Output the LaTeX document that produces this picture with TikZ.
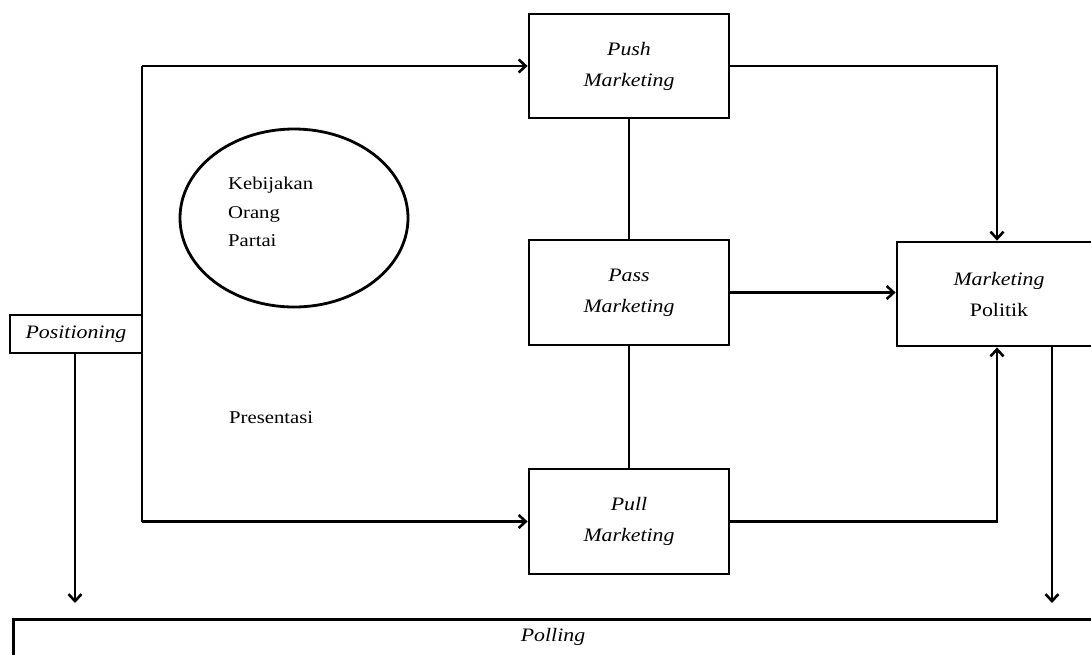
\documentclass[tikz,border=0pt]{standalone}
\usepackage{fontspec}
\setmainfont{Liberation Serif}[FakeStretch=1.15]
\usetikzlibrary{arrows.meta,shapes.geometric}
\begin{document}
\begin{tikzpicture}[x=1pt,y=-1pt,
  every node/.style={font=\fontsize{19}{32}\selectfont},
  line/.style={line width=2.8pt},
  arr/.style={line width=2.8pt,-{Straight Barb[length=7pt,width=13pt,line width=2.6pt]}},
  box/.style={draw,line width=2.8pt,minimum width=200pt,minimum height=104pt,align=center,inner sep=0pt},
  txt/.style={inner sep=0pt,anchor=west}]
\useasboundingbox (0,0) rectangle (1091,654);
\clip (0,0) rectangle (1091,654);
\node[box] (push) at (629,66) {\textit{Push}\\[-1pt]\textit{Marketing}};
\node[box,minimum height=105pt] (pass) at (629,292.5) {\textit{Pass}\\[-1pt]\textit{Marketing}};
\node[box,minimum height=105pt] (pull) at (629,521.5) {\textit{Pull}\\[-1pt]\textit{Marketing}};
\node[box,minimum width=204pt] (mp) at (999,294) {\textit{Marketing}\\[-1pt]Politik};
\node[draw,line width=2.8pt,minimum width=132pt,minimum height=38pt,inner sep=0pt] (pos) at (76,334) {\textit{Positioning}};
\node[draw,line width=2.8pt,minimum width=1090pt,minimum height=46pt,inner sep=0pt,anchor=north west] (poll) at (12,618) {};
\node[inner sep=0pt] (polltext) at (553,637) {\textit{Polling}};
\node[draw,ellipse,line width=2.8pt,minimum width=228pt,minimum height=178pt] (ell) at (294,218) {};
\node[txt,align=left,font=\fontsize{18}{28.5}\selectfont] (elltext) at (228,212) {Kebijakan\\Orang\\Partai};
\node[txt,font=\fontsize{18}{28}\selectfont] (pres) at (229,418) {Presentasi};
\coordinate (tl) at (142,66);
\coordinate (bl) at (142,521.5);
\coordinate (posdown) at (75,603);
\coordinate (mpdown) at (1052,603);
\draw[line] (tl) -- (bl);
\draw[arr] (tl) -- (push.west);
\draw[arr] (bl) -- (pull.west);
\draw[arr] (pos.south -| posdown) -- (posdown);
\draw[line] (push.south) -- (pass.north);
\draw[line] (pass.south) -- (pull.north);
\draw[arr] (push.east) -| (mp.north -| 997,0);
\draw[arr] (pull.east) -| (mp.south -| 997,0);
\draw[arr] (pass.east) -- (pass.east -| mp.west);
\draw[arr] (mp.south -| mpdown) -- (mpdown);
\end{tikzpicture}
\end{document}
